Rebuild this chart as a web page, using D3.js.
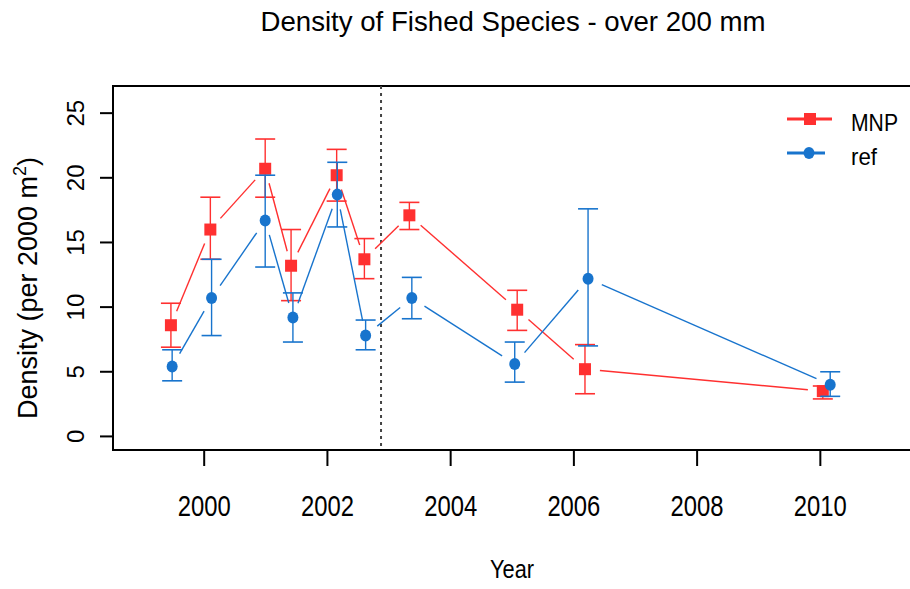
<!DOCTYPE html>
<html>
<head>
<meta charset="utf-8">
<script src="https://cdn.jsdelivr.net/npm/d3@7/dist/d3.min.js"></script>
<style>
  body { margin: 0; background: #fff; }
  text { font-family: "Liberation Sans", Arial, sans-serif; fill: #000; }
</style>
</head>
<body>
<svg id="chart"></svg>
<script>
// data
var mnpYears = [1999.46, 2000.10, 2000.99, 2001.41, 2002.15, 2002.60, 2003.33, 2005.08, 2006.18, 2010.04];
var mnpMean  = [8.6, 16.0, 20.7, 13.2, 20.2, 13.7, 17.1, 9.8, 5.2, 3.5];
var mnpLow   = [6.9, 13.7, 18.5, 10.5, 18.2, 12.2, 16.0, 8.2, 3.3, 2.9];
var mnpHigh  = [10.3, 18.5, 23.0, 16.0, 22.2, 15.3, 18.1, 11.3, 7.1, 3.9];

var refYears = [1999.48, 2000.12, 2000.99, 2001.44, 2002.16, 2002.62, 2003.37, 2005.04, 2006.23, 2010.16];
var refMean  = [5.4, 10.7, 16.7, 9.2, 18.7, 7.8, 10.7, 5.6, 12.2, 4.0];
var refLow   = [4.3, 7.8, 13.1, 7.3, 16.2, 6.7, 9.1, 4.2, 7.0, 3.1];
var refHigh  = [6.7, 13.7, 20.2, 11.1, 21.2, 9.0, 12.3, 7.3, 17.6, 5.0];

var xTicks = [2000, 2002, 2004, 2006, 2008, 2010];
var yTicks = [0, 5, 10, 15, 20, 25];
var mpaYear = 2002.87;

var seriesNames = ["MNP", "ref"];
var colors = {"MNP": "#ff3030", "ref": "#1874cd"};

var width = 910, height = 589;
var plot = {left: 113, right: 914, top: 86, bottom: 450};

var svg = d3.select("#chart").attr("width", width).attr("height", height);

var x = d3.scaleLinear().domain([1998.52, 2011.52]).range([plot.left, plot.right]);
var y = d3.scaleLinear().domain([-1.05, 27.1]).range([plot.bottom, plot.top]);

//title
svg.append("text")
  .attr("x", 513).attr("y", 31)
  .attr("text-anchor", "middle")
  .attr("font-size", 28)
  .attr("textLength", 505).attr("lengthAdjust", "spacingAndGlyphs")
  .text("Density of Fished Species - over 200 mm");

//plot box
svg.append("rect")
  .attr("x", plot.left).attr("y", plot.top)
  .attr("width", plot.right - plot.left).attr("height", plot.bottom - plot.top)
  .attr("fill", "none").attr("stroke", "#000").attr("stroke-width", 2);

//x axis ticks + labels
svg.selectAll(".xtick").data(xTicks).enter().append("line")
  .attr("x1", function(d) {return x(d);}).attr("x2", function(d) {return x(d);})
  .attr("y1", plot.bottom).attr("y2", plot.bottom + 16)
  .attr("stroke", "#000").attr("stroke-width", 2);
svg.selectAll(".xlab").data(xTicks).enter().append("text")
  .attr("x", function(d) {return x(d);}).attr("y", 516)
  .attr("text-anchor", "middle")
  .attr("font-size", 30)
  .attr("textLength", 53).attr("lengthAdjust", "spacingAndGlyphs")
  .text(function(d) {return d;});

//y axis ticks + labels (rotated like base R)
svg.selectAll(".ytick").data(yTicks).enter().append("line")
  .attr("x1", plot.left - 13).attr("x2", plot.left)
  .attr("y1", function(d) {return y(d);}).attr("y2", function(d) {return y(d);})
  .attr("stroke", "#000").attr("stroke-width", 2);
svg.selectAll(".ylab").data(yTicks).enter().append("text")
  .attr("transform", function(d) {return "translate(84," + y(d) + ") rotate(-90)";})
  .attr("text-anchor", "middle")
  .attr("font-size", 24)
  .text(function(d) {return d;});

//axis titles
svg.append("text")
  .attr("x", 512).attr("y", 578)
  .attr("text-anchor", "middle")
  .attr("font-size", 26)
  .attr("textLength", 44).attr("lengthAdjust", "spacingAndGlyphs")
  .text("Year");

var ylab = svg.append("text")
  .attr("transform", "translate(37,288) rotate(-90)")
  .attr("text-anchor", "middle")
  .attr("font-size", 27);
ylab.append("tspan").text("Density (per 2000 m");
ylab.append("tspan").attr("font-size", 18).attr("dy", -11).text("2");
ylab.append("tspan").attr("dy", 11).text(")");

//MPA line
svg.append("line")
  .attr("x1", x(mpaYear)).attr("x2", x(mpaYear))
  .attr("y1", plot.top).attr("y2", plot.bottom)
  .attr("stroke", "#444").attr("stroke-width", 2)
  .attr("stroke-dasharray", "3,4");

//series, type="b" style lines with gaps near points
function drawSeries(name, years, mean, low, high) {
  var col = colors[name];
  var g = svg.append("g").attr("class", "series-" + name);
  var pts = years.map(function(d, i) {return [x(d), y(mean[i])];});
  var gap = 15;

  for (var i = 0; i < pts.length - 1; i++) {
    var p0 = pts[i], p1 = pts[i + 1];
    var dx = p1[0] - p0[0], dy = p1[1] - p0[1];
    var len = Math.sqrt(dx * dx + dy * dy);
    if (len <= 2 * gap) continue;
    var ux = dx / len, uy = dy / len;
    g.append("line")
      .attr("x1", p0[0] + ux * gap).attr("y1", p0[1] + uy * gap)
      .attr("x2", p1[0] - ux * gap).attr("y2", p1[1] - uy * gap)
      .attr("stroke", col).attr("stroke-width", 1.4);
  }

  //error bars
  var bars = g.selectAll(".err").data(years).enter().append("g");
  bars.append("line")
    .attr("x1", function(d) {return x(d);}).attr("x2", function(d) {return x(d);})
    .attr("y1", function(d, i) {return y(low[i]);}).attr("y2", function(d, i) {return y(high[i]);})
    .attr("stroke", col).attr("stroke-width", 1.4);
  bars.append("line")
    .attr("x1", function(d) {return x(d) - 10;}).attr("x2", function(d) {return x(d) + 10;})
    .attr("y1", function(d, i) {return y(low[i]);}).attr("y2", function(d, i) {return y(low[i]);})
    .attr("stroke", col).attr("stroke-width", 1.6);
  bars.append("line")
    .attr("x1", function(d) {return x(d) - 10;}).attr("x2", function(d) {return x(d) + 10;})
    .attr("y1", function(d, i) {return y(high[i]);}).attr("y2", function(d, i) {return y(high[i]);})
    .attr("stroke", col).attr("stroke-width", 1.6);

  //markers
  if (name == "MNP") {
    g.selectAll(".pt").data(years).enter().append("rect")
      .attr("x", function(d) {return x(d) - 6;})
      .attr("y", function(d, i) {return y(mean[i]) - 6;})
      .attr("width", 12).attr("height", 12)
      .attr("fill", col);
  } else {
    g.selectAll(".pt").data(years).enter().append("ellipse")
      .attr("cx", function(d) {return x(d);})
      .attr("cy", function(d, i) {return y(mean[i]);})
      .attr("rx", 5.5).attr("ry", 6)
      .attr("fill", col);
  }
}

drawSeries("MNP", mnpYears, mnpMean, mnpLow, mnpHigh);
drawSeries("ref", refYears, refMean, refLow, refHigh);

//legend
var legend = svg.append("g").attr("class", "legend");
var legY = [119, 153];
seriesNames.forEach(function(name, i) {
  var col = colors[name];
  var ly = legY[i];
  legend.append("line")
    .attr("x1", 787).attr("x2", name == "MNP" ? 832 : 825)
    .attr("y1", ly).attr("y2", ly)
    .attr("stroke", col).attr("stroke-width", 3);
  if (name == "MNP") {
    legend.append("rect").attr("x", 804).attr("y", ly - 6).attr("width", 12).attr("height", 12).attr("fill", col);
  } else {
    legend.append("ellipse").attr("cx", 809).attr("cy", ly).attr("rx", 5.5).attr("ry", 6).attr("fill", col);
  }
  legend.append("text")
    .attr("x", 851).attr("y", ly + 12)
    .attr("font-size", 24)
    .attr("textLength", name == "MNP" ? 47 : 26).attr("lengthAdjust", "spacingAndGlyphs")
    .text(name);
});
</script>
</body>
</html>
